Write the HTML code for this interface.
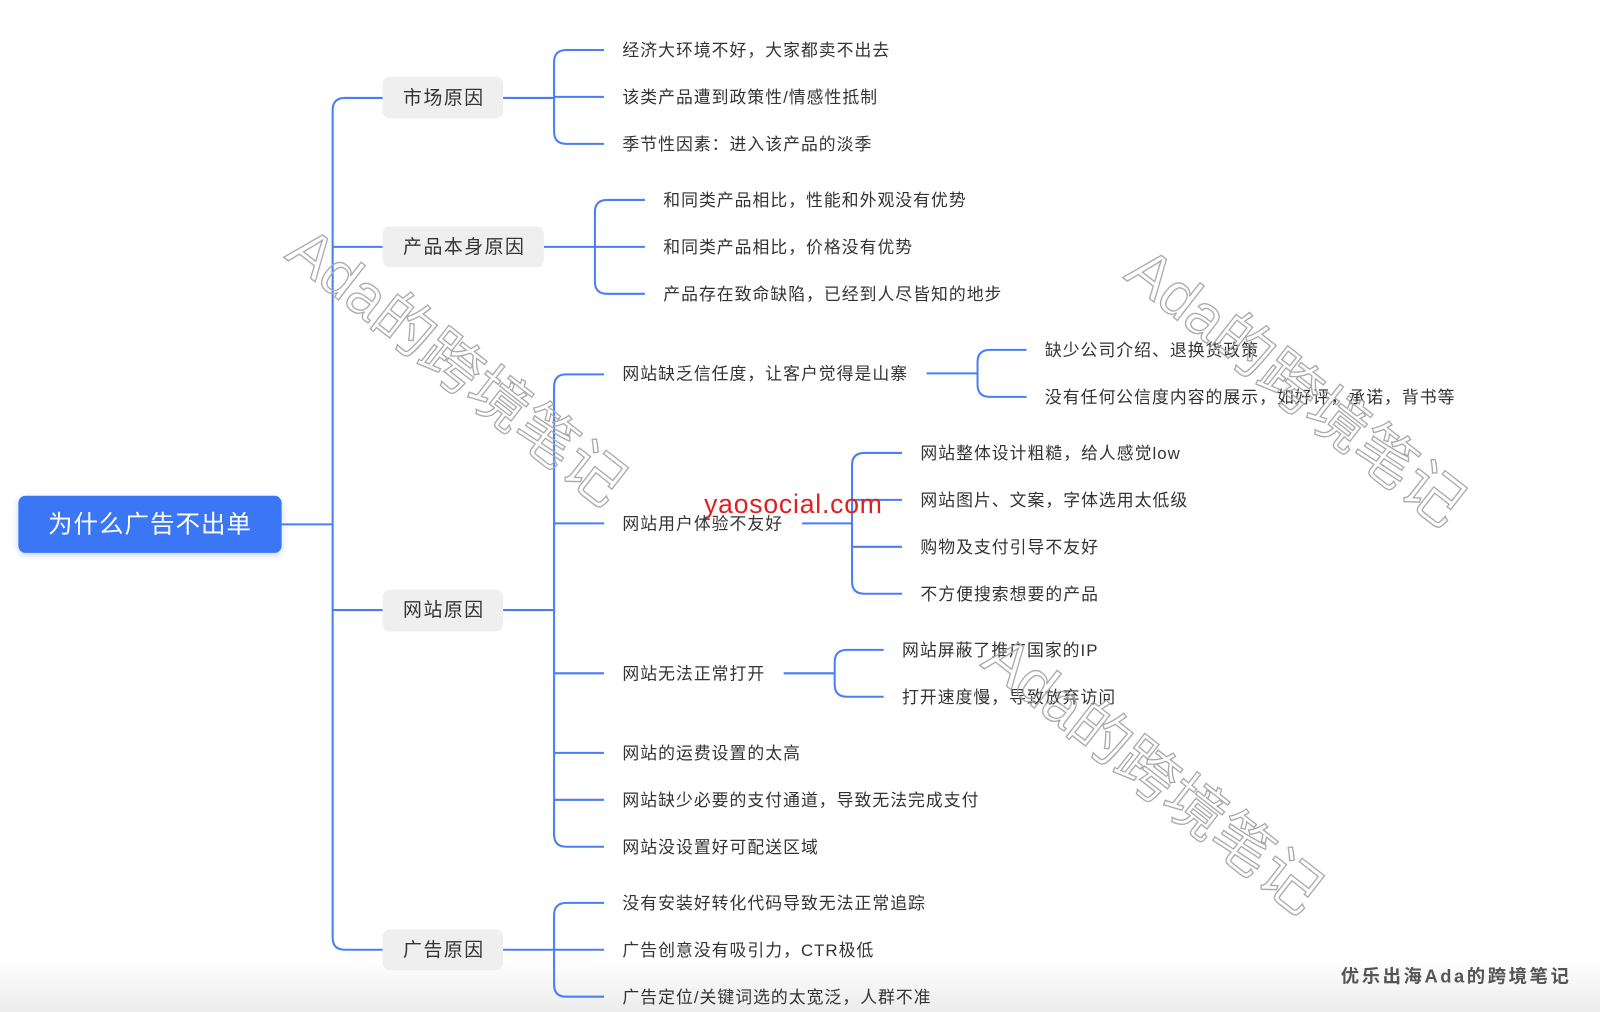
<!DOCTYPE html>
<html><head><meta charset="utf-8"><style>
html,body{margin:0;padding:0;background:#fff;}
svg{display:block;}
text{font-family:"Liberation Sans","Noto Sans CJK SC",sans-serif;}
</style></head><body>
<svg width="1600" height="1012" viewBox="0 0 1568 992" preserveAspectRatio="none" xmlns="http://www.w3.org/2000/svg">
<defs>
<linearGradient id="bg" x1="0" y1="0" x2="0" y2="1"><stop offset="0" stop-color="#fff"/><stop offset="1" stop-color="#ececec"/></linearGradient>
<filter id="sh" x="-10%" y="-30%" width="120%" height="160%"><feDropShadow dx="0" dy="2" stdDeviation="3" flood-color="#3a77f5" flood-opacity="0.3"/></filter>
</defs>
<rect x="0" y="940" width="1568" height="52" fill="url(#bg)"/>
<g fill="none" stroke="#4a7ef5" stroke-width="2">
<path d="M276 514H326"/>
<path d="M375 96H338Q326 96 326 108V919Q326 931 338 931H375"/>
<path d="M326 242H375M326 598H375"/>
<path d="M493 96H543M592 49H555Q543 49 543 61V129Q543 141 555 141H592M543 95H592"/>
<path d="M533 242H632M632 196H595Q583 196 583 208V276Q583 288 595 288H632"/>
<path d="M493 598H543M592 367H555Q543 367 543 379V818Q543 830 555 830H592"/>
<path d="M543 513H592M543 660H592M543 738H592M543 784H592"/>
<path d="M908 366H958M1006 343H970Q958 343 958 355V377Q958 389 970 389H1006"/>
<path d="M786 513H835M884 444H847Q835 444 835 456V570Q835 582 847 582H884M835 490H884M835 536H884"/>
<path d="M768 660H818M866 637H830Q818 637 818 649V671Q818 683 830 683H866"/>
<path d="M493 931H543M592 885H555Q543 885 543 897V965Q543 977 555 977H592M543 931H592"/>
</g>
<rect x="18" y="486" width="258" height="56" rx="7" fill="#3a77f5" filter="url(#sh)"/>
<text x="147" y="522" font-size="24" fill="#fff" text-anchor="middle" letter-spacing="1">为什么广告不出单</text>
<g fill="#efefef">
<rect x="375" y="75" width="118" height="41" rx="7"/>
<rect x="375" y="222" width="158" height="40" rx="7"/>
<rect x="375" y="578" width="118" height="41" rx="7"/>
<rect x="375" y="911" width="118" height="40" rx="7"/>
</g>
<g font-size="18.5" fill="#333" letter-spacing="1.5">
<text x="395" y="102">市场原因</text>
<text x="395" y="248">产品本身原因</text>
<text x="395" y="604">网站原因</text>
<text x="395" y="937">广告原因</text>
</g>
<g font-size="16.5" fill="#333" letter-spacing="1">
<text x="610" y="55">经济大环境不好，大家都卖不出去</text>
<text x="610" y="101">该类产品遭到政策性/情感性抵制</text>
<text x="610" y="147">季节性因素：进入该产品的淡季</text>
<text x="650" y="202">和同类产品相比，性能和外观没有优势</text>
<text x="650" y="248">和同类产品相比，价格没有优势</text>
<text x="650" y="294">产品存在致命缺陷，已经到人尽皆知的地步</text>
<text x="610" y="372">网站缺乏信任度，让客户觉得是山寨</text>
<text x="1024" y="349">缺少公司介绍、退换货政策</text>
<text x="1024" y="395">没有任何公信度内容的展示，如好评，承诺，背书等</text>
<text x="610" y="519">网站用户体验不友好</text>
<text x="902" y="450">网站整体设计粗糙，给人感觉low</text>
<text x="902" y="496">网站图片、文案，字体选用太低级</text>
<text x="902" y="542">购物及支付引导不友好</text>
<text x="902" y="588">不方便搜索想要的产品</text>
<text x="610" y="666">网站无法正常打开</text>
<text x="884" y="643">网站屏蔽了推广国家的IP</text>
<text x="884" y="689">打开速度慢，导致放弃访问</text>
<text x="610" y="744">网站的运费设置的太高</text>
<text x="610" y="790">网站缺少必要的支付通道，导致无法完成支付</text>
<text x="610" y="836">网站没设置好可配送区域</text>
<text x="610" y="891">没有安装好转化代码导致无法正常追踪</text>
<text x="610" y="937">广告创意没有吸引力，CTR极低</text>
<text x="610" y="983">广告定位/关键词选的太宽泛，人群不准</text>
</g>
<g font-size="59" fill="none" stroke="#aaa" stroke-width="1.3">
<text transform="translate(278,252) rotate(38)">Ada的跨境笔记</text>
<text transform="translate(1100,272) rotate(38)">Ada的跨境笔记</text>
<text transform="translate(960,652) rotate(38)">Ada的跨境笔记</text>
</g>
<text x="690" y="503" font-size="26" fill="#e02020" letter-spacing="0.8">yaosocial.com</text>
<text x="1314" y="963" font-size="18" font-weight="bold" fill="#555" letter-spacing="2.5">优乐出海Ada的跨境笔记</text>
</svg>
</body></html>
